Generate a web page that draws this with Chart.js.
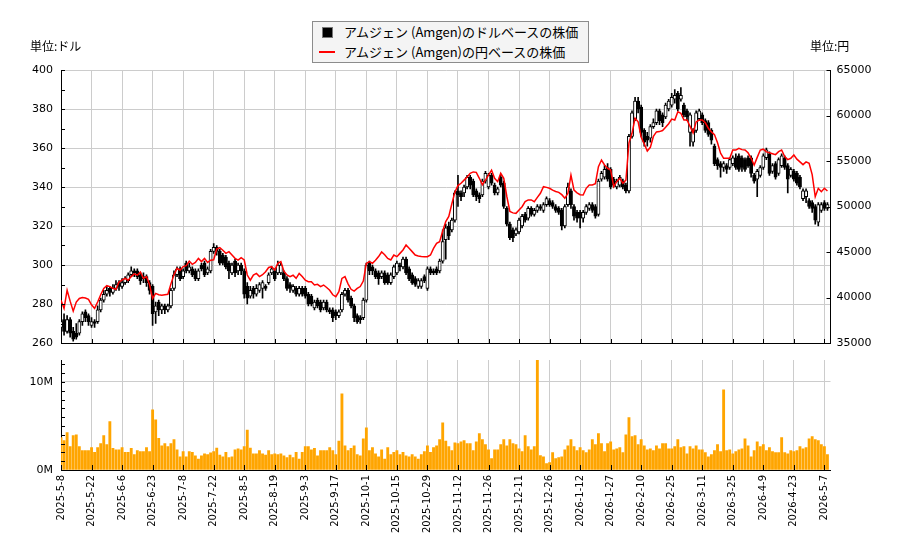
<!DOCTYPE html>
<html><head><meta charset="utf-8">
<script src="https://cdn.jsdelivr.net/npm/chart.js@4.4.1/dist/chart.umd.min.js"></script>
<style>
html,body{margin:0;padding:0;background:#fff;}
#wrap{position:relative;width:900px;height:550px;overflow:hidden;font-family:"Noto Sans CJK JP","DejaVu Sans",sans-serif;}
canvas{position:absolute;left:0;}
#priceCanvas{top:0;}
#volCanvas{top:350px;}
.unit{position:absolute;top:37px;font-size:12px;color:#000;line-height:18px;}
#legend{position:absolute;left:312px;top:21px;width:275px;height:40px;background:#f4f4f4;border:1px solid #8c8c8c;font-size:13px;color:#000;}
.item{position:absolute;left:6px;height:20px;line-height:20px;white-space:nowrap;}
.sw{display:inline-block;width:16px;height:20px;vertical-align:top;margin-right:9px;position:relative;}
.sq{position:absolute;left:3px;top:5px;width:9px;height:9px;background:#000;border:1px solid #777;}
.ln{position:absolute;left:0;top:9px;width:16px;height:2px;background:#ff0000;}
</style></head>
<body>
<div id="wrap">
  <canvas id="priceCanvas" width="900" height="350"></canvas>
  <canvas id="volCanvas" width="900" height="200"></canvas>
  <div class="unit" style="left:30px">単位:ドル</div>
  <div class="unit" style="left:810px">単位:円</div>
  <div id="legend"></div>
</div>
<script>
const tickLabels = ['2025-5-8','2025-5-22','2025-6-6','2025-6-23','2025-7-8','2025-7-22','2025-8-5','2025-8-19','2025-9-3','2025-9-17','2025-10-1','2025-10-15','2025-10-29','2025-11-12','2025-11-26','2025-12-11','2025-12-26','2026-1-12','2026-1-27','2026-2-10','2026-2-25','2026-3-11','2026-3-25','2026-4-9','2026-4-23','2026-5-7'];

const dollarLabel = 'アムジェン (Amgen)のドルベースの株価';
const yenLabel = 'アムジェン (Amgen)の円ベースの株価';

const openPrices = [
268,272,266,272,266,265,265,271,276,274,
269,271,271,277,282,285,288,286,288,291,
289,291,292,295,297,297,295,293,294,291,
289,276,281,277,279,277,279,288,295,298,
294,301,297,298,297,293,300,301,296,297,
307,309,307,305,304,301,296,302,297,300,
297,289,284,288,285,287,288,289,291,296,
297,296,296,296,293,290,287,288,285,288,
288,285,284,278,282,281,278,281,277,277,
276,274,277,285,287,283,279,274,273,273,
282,301,299,297,296,294,296,295,291,294,
296,300,299,303,298,295,293,289,289,294,
288,298,297,298,297,302,313,320,318,323,
338,337,337,340,345,343,338,336,336,343,
340,346,341,337,345,342,329,321,318,316,
317,320,326,324,329,326,328,330,328,331,
333,332,330,329,328,320,331,338,330,327,
327,324,327,329,331,330,326,344,345,350,
349,344,340,341,343,341,338,366,375,384,
381,369,366,365,371,373,379,377,376,380,
382,385,388,385,382,379,368,363,369,375,
377,374,373,369,361,354,352,350,351,350,
352,355,356,355,354,355,355,346,344,346,
350,355,357,348,352,347,351,355,351,346,
348,347,345,334,335,333,332,330,322,328,
332,329];

const highPrices = [
273,275,274,273,268,270,272,276,277,275,
273,272,279,283,287,289,289,290,292,292,
293,294,296,299,298,298,296,296,295,292,
290,281,282,280,280,280,288,297,299,299,
298,302,301,299,298,298,301,302,299,308,
311,310,308,306,305,302,301,303,301,301,
298,291,289,289,290,291,292,290,296,299,
298,302,301,297,294,291,290,289,289,289,
289,286,285,282,283,282,282,282,278,278,
277,277,286,288,288,284,280,275,274,283,
301,302,300,298,297,297,297,296,296,300,
302,301,304,304,299,296,294,293,293,295,
299,299,298,299,303,318,321,322,324,338,
346,338,341,346,346,344,339,337,344,348,
347,347,342,340,346,343,330,322,319,319,
324,326,327,330,330,329,331,331,332,335,
334,333,331,330,329,331,342,339,331,328,
328,328,331,332,332,331,344,348,351,352,
350,345,344,346,344,342,367,379,386,386,
382,370,368,372,375,380,380,378,383,385,
388,390,389,391,383,380,378,370,379,380,
378,375,374,370,362,355,353,353,352,355,
356,357,357,356,355,356,356,347,349,351,
357,360,358,352,353,355,357,356,352,350,
349,348,346,339,339,334,333,331,332,332,
333,332];

const lowPrices = [
266,264,265,263,261,262,264,269,271,269,
268,268,270,276,281,284,284,285,287,287,
288,290,291,294,294,293,290,291,289,285,
269,270,274,275,275,276,278,287,294,292,
293,296,296,294,292,292,297,294,295,296,
306,305,300,300,298,293,295,294,295,295,
283,280,283,283,284,286,283,287,290,295,
292,295,295,292,287,286,286,284,284,284,
283,279,279,277,278,276,277,276,275,271,
272,273,276,284,281,278,271,270,270,272,
281,295,295,293,290,293,290,290,290,293,
295,297,298,295,292,290,289,288,288,291,
287,295,295,295,296,301,303,313,317,322,
330,333,335,339,339,335,333,332,335,342,
339,341,336,336,340,329,320,313,312,315,
316,319,322,323,325,325,327,328,327,330,
330,329,327,326,318,319,330,329,323,322,
319,322,326,328,327,324,325,343,344,343,
339,340,339,340,339,337,337,365,374,378,
366,361,361,363,370,372,372,371,375,379,
381,383,379,384,376,374,361,361,368,374,
372,368,366,362,351,349,345,348,347,349,
351,349,348,348,348,350,345,342,335,345,
349,354,346,347,344,346,350,349,337,345,
343,341,339,333,332,329,327,321,320,327,
328,328];

const closePrices = [
271,266,272,265,262,263,271,275,273,271,
271,270,277,282,285,287,286,288,290,289,
291,293,295,297,296,294,292,294,291,287,
275,279,277,279,277,279,287,295,298,293,
297,297,299,295,293,297,298,295,298,307,
309,307,301,301,299,297,300,296,300,297,
285,283,287,285,288,290,291,288,295,298,
293,300,300,293,288,288,289,285,288,285,
284,280,280,281,279,277,281,277,276,273,
274,276,285,287,282,279,273,271,272,282,
300,297,297,294,293,296,291,291,295,299,
301,299,303,296,293,291,290,292,292,292,
298,296,296,296,302,312,319,315,323,337,
336,335,340,345,341,336,335,334,343,347,
346,342,337,339,341,330,321,314,314,318,
323,325,323,329,326,328,330,329,331,334,
331,330,328,327,320,330,340,331,325,324,
324,327,330,331,328,325,343,347,349,344,
340,341,343,345,340,338,366,378,384,380,
368,363,364,371,373,379,374,373,382,384,
386,387,380,387,377,376,377,369,378,379,
373,369,367,364,352,351,350,352,349,354,
355,350,349,350,349,351,347,343,348,350,
356,359,347,351,345,354,356,350,344,349,
344,342,340,338,338,330,329,323,331,331,
329,331];

const yenPrices = [
39700,38800,40800,39600,38500,39500,39900,40000,39950,39800,
39200,38800,39500,40300,41000,41300,41200,41000,40900,41700,
41900,42100,41900,42300,42600,42450,42800,42100,42300,41400,
39900,40450,40300,40250,40300,40350,41500,42500,43200,43000,
43400,43500,44000,43650,43850,44300,43950,44300,43850,44100,
44150,45330,45480,45200,44850,45040,44670,44300,44100,44380,
44120,42470,41900,42470,42650,42300,42500,42840,43300,43390,
43020,43750,43940,42900,42470,42300,42450,42100,42650,42300,
41900,41740,41740,41370,41450,41190,41370,41100,40800,40300,
40090,40640,42100,42290,41500,40900,40700,41000,41200,41800,
43750,43940,43760,44100,44500,45000,44700,44300,44120,44670,
44490,44850,45220,45770,45400,45040,44670,44560,44500,44490,
44490,44670,45400,45950,46140,47300,48340,48900,50300,51600,
52300,52550,52900,53250,53650,53800,53750,53100,52400,52900,
53460,54000,53100,52730,53650,53100,51100,49450,49300,49250,
49620,49980,50530,50720,50720,50530,51000,51450,52180,52100,
52000,51800,51650,51550,51300,50900,51450,53460,51800,51500,
51300,51270,52000,52365,52365,52500,54380,55110,54560,54200,
54014,52182,52730,53100,52548,52900,57000,58043,59700,59300,
57600,56900,56100,56500,57700,58200,58230,58350,58700,59100,
59600,59500,60400,60250,59500,59500,58800,58100,59300,59500,
59500,59200,58600,58200,57900,57000,55850,55300,55300,55300,
56200,56200,56390,56250,56211,55900,55300,54563,55400,56200,
56300,56000,55900,55800,55700,56028,56211,55500,55150,55300,
55662,55200,54900,54600,54900,54750,53500,51083,52000,51632,
52000,51700];

// volume in millions of shares
const volumes = [
3.67,3.33,4.24,2.65,3.9,4.0,2.65,2.2,2.2,2.2,
2.55,2.0,2.55,3.0,3.9,2.9,5.5,2.45,2.3,2.3,
2.55,2.0,2.0,2.45,1.75,2.2,2.1,2.1,2.55,2.1,
6.85,5.7,3.6,2.75,3.0,2.65,3.0,3.45,2.3,1.5,
2.1,1.5,2.1,2.0,1.6,1.25,1.6,1.85,1.75,1.95,
2.1,2.5,1.7,1.5,2.0,1.4,1.5,2.3,2.4,2.3,
2.65,4.55,2.5,1.85,1.85,2.2,1.85,1.7,2.2,1.75,
1.85,1.75,1.85,1.6,1.4,1.7,1.4,2.0,1.25,2.0,
2.65,2.65,2.3,2.45,1.6,2.2,2.2,2.2,2.55,2.2,
1.75,3.3,8.65,2.75,2.2,2.45,2.75,1.75,1.6,3.55,
4.8,2.2,2.55,1.85,1.5,2.3,1.25,2.55,1.75,2.0,
2.2,1.75,2.0,1.6,1.5,1.75,1.5,1.25,1.75,2.1,
2.75,2.0,2.55,2.75,3.45,5.35,3.3,2.65,2.2,3.1,
3.0,3.2,3.33,3.0,3.0,2.2,3.2,4.13,3.45,2.88,
2.3,1.3,2.3,2.3,2.9,3.45,2.75,3.45,3.0,2.9,
2.4,2.1,3.9,2.65,2.3,2.65,12.6,1.63,1.5,0.72,
0.83,1.97,1.3,1.4,1.5,2.3,2.75,3.45,2.65,2.2,
2.55,2.2,1.97,2.3,3.45,2.9,4.13,3.0,2.1,3.0,
3.2,2.3,2.4,2.55,1.97,4.0,5.95,3.8,3.9,2.9,
3.45,2.75,2.3,2.4,2.2,2.75,2.4,3.0,3.0,2.4,
2.4,2.65,3.45,2.55,2.65,1.85,2.65,2.4,2.75,2.3,
2.3,1.97,1.5,1.75,2.2,2.9,2.1,9.1,2.2,2.3,
1.85,2.1,2.3,2.4,3.55,2.75,1.5,2.2,3.2,2.65,
2.9,2.2,2.55,2.1,1.97,1.97,3.67,1.97,1.85,2.2,
2.1,2.2,2.65,2.4,2.55,3.55,3.8,3.45,3.33,2.9,
2.65,1.75];

const tickFont = {family: 'DejaVu Sans', size: 11};
const X_MAX = 252;

const bodyPoints = openPrices.map((o, i) => ({x: i, y: [o, closePrices[i]]}));
const wickPoints = lowPrices.map((l, i) => ({x: i, y: [l, highPrices[i]]}));
const yenPoints = yenPrices.map((v, i) => ({x: i, y: v}));
const volPoints = volumes.map((v, i) => ({x: i, y: v}));

// fixed axis sizes so both plot areas share the same left/right edges
function fixVertical(width) {
  return s => { s.width = width; s.paddingTop = 0; s.paddingBottom = 0; };
}

// short inward tick marks along the axes, placed through each scale
const inwardTicks = {
  id: 'inwardTicks',
  afterDraw(chart, args, opts) {
    const ctx = chart.ctx, area = chart.chartArea;
    ctx.save();
    ctx.strokeStyle = '#000';
    ctx.lineWidth = 1;
    (opts.marks || []).forEach(m => {
      const sc = chart.scales[m.id];
      if (!sc) return;
      ctx.beginPath();
      for (let v = sc.min; v <= sc.max + 1e-9; v += m.step) {
        const p = Math.round(sc.getPixelForValue(v)) + 0.5;
        if (m.side === 'left') { ctx.moveTo(area.left, p); ctx.lineTo(area.left + m.len, p); }
        else if (m.side === 'right') { ctx.moveTo(area.right, p); ctx.lineTo(area.right - m.len, p); }
        else { ctx.moveTo(p, area.bottom); ctx.lineTo(p, area.bottom - m.len); }
      }
      ctx.stroke();
    });
    ctx.restore();
  }
};

const priceChart = new Chart(document.getElementById('priceCanvas'), {
  type: 'bar',
  data: {
    datasets: [
      {type: 'line', label: yenLabel, data: yenPoints, yAxisID: 'yYen',
       borderColor: '#ff0000', borderWidth: 1.5, pointRadius: 0, tension: 0, order: 1},
      {label: dollarLabel, data: bodyPoints, yAxisID: 'yUsd',
       backgroundColor: c => (closePrices[c.dataIndex] >= openPrices[c.dataIndex] ? '#ffffff' : '#000000'),
       borderColor: '#000000', borderWidth: 1, borderSkipped: false,
       barThickness: 3.2, grouped: false, order: 2},
      {label: 'wick', data: wickPoints, yAxisID: 'yUsd', backgroundColor: '#000000',
       borderWidth: 0, barThickness: 1, grouped: false, order: 3}
    ]
  },
  options: {
    responsive: false, animation: false, devicePixelRatio: 1,
    layout: {padding: {top: 70, left: 0, right: 0, bottom: 0}},
    plugins: {legend: {display: false}, tooltip: {enabled: false},
      inwardTicks: {marks: [
        {id: 'yUsd', step: 10, len: 4, side: 'left'},
        {id: 'yYen', step: 5000, len: 4, side: 'right'},
        {id: 'x', step: 10, len: 4, side: 'bottom'}
      ]}},
    scales: {
      x: {type: 'linear', min: 0, max: X_MAX, offset: false,
          grid: {color: '#cccccc', offset: false, drawTicks: false},
          border: {color: '#000000'},
          ticks: {display: false, stepSize: 10, includeBounds: false},
          afterFit: s => { s.height = 7; s.paddingLeft = 0; s.paddingRight = 0; }},
      yUsd: {position: 'left', min: 260, max: 400,
          ticks: {stepSize: 20, padding: 8, font: tickFont, color: '#000', callback: v => String(v)},
          grid: {color: '#cccccc', drawTicks: false},
          border: {color: '#000000'},
          afterFit: fixVertical(61)},
      yYen: {position: 'right', min: 35000, max: 65000,
          ticks: {stepSize: 5000, padding: 6, font: tickFont, color: '#000', callback: v => String(v)},
          grid: {drawOnChartArea: false, drawTicks: false},
          border: {color: '#000000'},
          afterFit: fixVertical(69.5)}
    }
  },
  plugins: [inwardTicks]
});

new Chart(document.getElementById('volCanvas'), {
  type: 'bar',
  data: {datasets: [{label: '出来高', data: volPoints, backgroundColor: '#ffa500', borderWidth: 0, barThickness: 2.2}]},
  options: {
    responsive: false, animation: false, devicePixelRatio: 1,
    layout: {padding: {top: 10, left: 0, right: 69.5, bottom: 0}},
    plugins: {legend: {display: false}, tooltip: {enabled: false},
      inwardTicks: {marks: [
        {id: 'y', step: 1, len: 4, side: 'left'},
        {id: 'x', step: 10, len: 5, side: 'bottom'}
      ]}},
    scales: {
      x: {type: 'linear', min: 0, max: X_MAX, offset: false,
          grid: {color: '#cccccc', offset: false, drawTicks: false},
          border: {color: '#000000'},
          ticks: {stepSize: 10, includeBounds: false, autoSkip: false, maxRotation: 90, minRotation: 90,
                  padding: 5, font: {family: 'DejaVu Sans', size: 10}, color: '#000',
                  callback: v => tickLabels[Math.round(v / 10)]},
          afterFit: s => { s.height = 80; s.paddingLeft = 0; s.paddingRight = 0; }},
      y: {min: 0, max: 12.5,
          ticks: {stepSize: 1, padding: 8, font: tickFont, color: '#000',
                  callback: v => (v % 5 === 0 ? v + 'M' : '')},
          grid: {color: c => (c.tick && c.tick.value % 5 === 0 ? '#cccccc' : 'rgba(0,0,0,0)'), drawTicks: false},
          border: {color: '#000000'},
          afterFit: fixVertical(61)}
    }
  },
  plugins: [inwardTicks]
});

// HTML legend built from the chart's own dataset labels
const legendEl = document.getElementById('legend');
const entries = [
  {label: priceChart.data.datasets[1].label, cls: 'sq'},
  {label: priceChart.data.datasets[0].label, cls: 'ln'}
];
entries.forEach((e, k) => {
  const item = document.createElement('div');
  item.className = 'item';
  item.style.top = (k * 20) + 'px';
  const sw = document.createElement('span');
  sw.className = 'sw';
  const mark = document.createElement('span');
  mark.className = e.cls;
  sw.appendChild(mark);
  item.appendChild(sw);
  item.appendChild(document.createTextNode(e.label));
  legendEl.appendChild(item);
});
</script>
</body></html>
